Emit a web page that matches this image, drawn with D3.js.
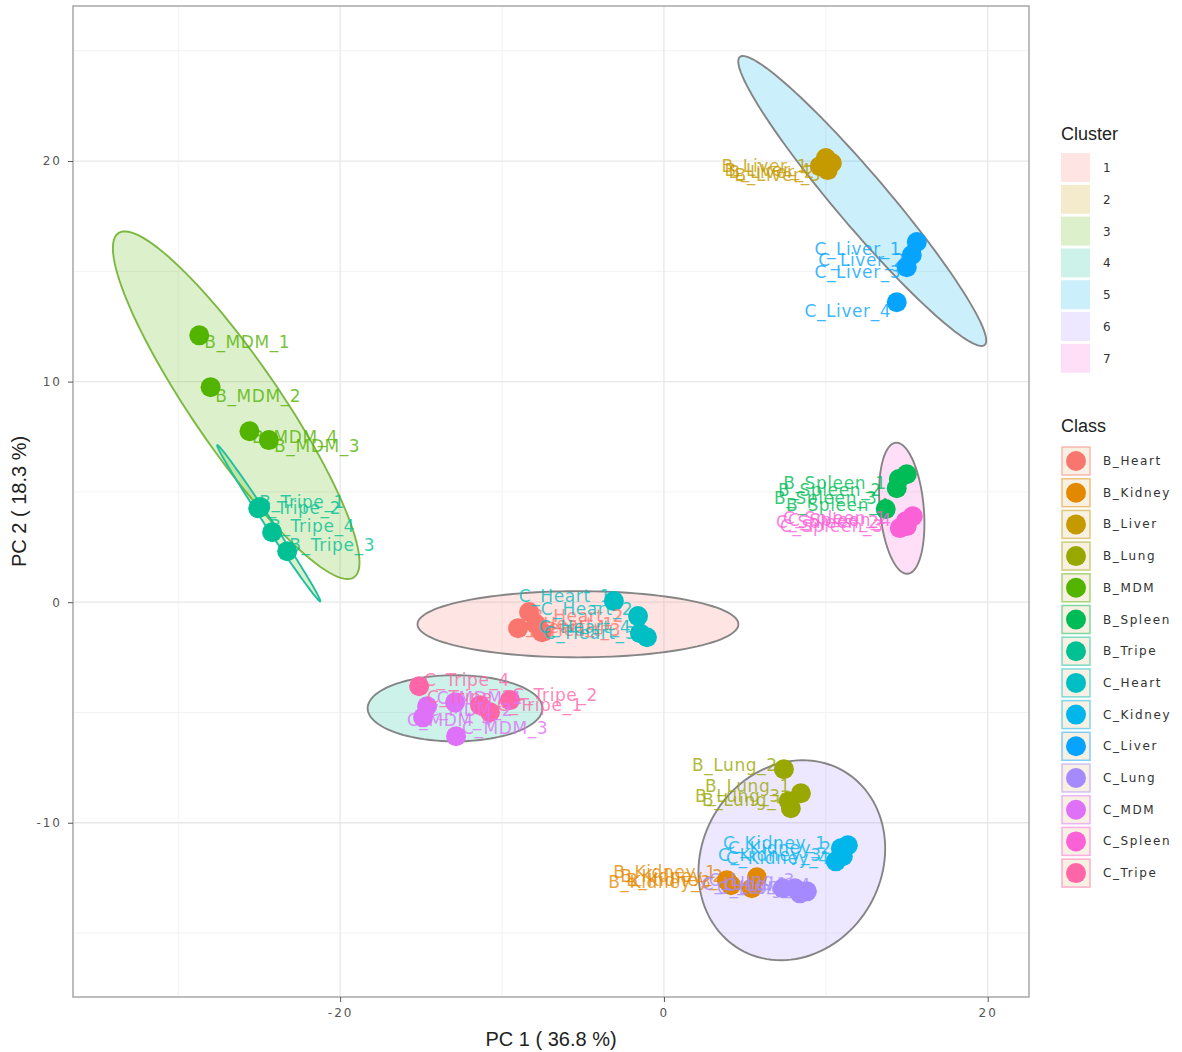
<!DOCTYPE html>
<html>
<head>
<meta charset="utf-8">
<script src="https://cdn.jsdelivr.net/npm/d3@7"></script>
<style>
  body { margin: 0; background: #fff; }
  svg { font-family: "DejaVu Sans", sans-serif; }
</style>
</head>
<body>
<figure id="pca" style="margin:0"></figure>
<script>
// class names (ggplot default hue order)
const classes = ["B_Heart", "B_Kidney", "B_Liver", "B_Lung", "B_MDM", "B_Spleen", "B_Tripe",
  "C_Heart", "C_Kidney", "C_Liver", "C_Lung", "C_MDM", "C_Spleen", "C_Tripe"];
const classColors = ["#F8766D", "#E38900", "#C49A00", "#99A800", "#53B400", "#00BC56", "#00C094",
  "#00BFC4", "#00B6EB", "#06A4FF", "#A58AFF", "#DF70F8", "#FB61D7", "#FF66A8"];
const clusters = ["1", "2", "3", "4", "5", "6", "7"];
const clusterColors = ["#F8766D", "#C49A00", "#53B400", "#00C094", "#00B6EB", "#A58AFF", "#FB61D7"];

// scores per class, samples _1.._4
const pc1 = {
  B_Heart: [-9.01, -8.33, -7.53, -7.9],
  B_Kidney: [3.89, 5.74, 5.43, 4.14],
  B_Liver: [10.0, 10.37, 10.12, 9.63],
  B_Lung: [8.46, 7.41, 7.72, 7.84],
  B_MDM: [-28.7, -28.0, -24.4, -25.6],
  B_Spleen: [14.51, 15.0, 14.38, 13.7],
  B_Tripe: [-25.06, -24.94, -23.27, -24.2],
  C_Heart: [-3.09, -1.6, -1.48, -1.05],
  C_Kidney: [10.93, 11.36, 10.62, 11.05],
  C_Liver: [15.62, 15.31, 15.0, 14.38],
  C_Lung: [7.35, 8.09, 8.83, 8.4],
  C_MDM: [-12.9, -14.63, -12.84, -14.88],
  C_Spleen: [14.94, 15.37, 14.57, 15.0],
  C_Tripe: [-10.74, -9.51, -11.36, -15.12]
};
const pc2 = {
  B_Heart: [-1.18, -0.45, -1.36, -1.0],
  B_Kidney: [-12.61, -12.47, -12.97, -12.83],
  B_Liver: [20.14, 19.91, 19.59, 19.77],
  B_Lung: [-8.66, -7.57, -9.02, -9.34],
  B_MDM: [12.1, 9.75, 7.35, 7.75],
  B_Spleen: [5.58, 5.8, 5.17, 4.22],
  B_Tripe: [4.26, 4.31, 2.31, 3.17],
  C_Heart: [0.05, -0.63, -1.41, -1.59],
  C_Kidney: [-11.16, -11.02, -11.75, -11.52],
  C_Liver: [16.33, 15.74, 15.19, 13.6],
  C_Lung: [-12.97, -12.97, -13.11, -13.2],
  C_MDM: [-4.54, -4.72, -6.08, -5.22],
  C_Spleen: [3.67, 3.9, 3.36, 3.45],
  C_Tripe: [-4.99, -4.44, -4.67, -3.81]
};
// repelled label centres (data units)
const labelPC1 = {
  B_Heart: [-5.93, -5.31, -5.49, -6.42],
  B_Kidney: [0.06, 0.49, -0.25, 0.86],
  B_Liver: [6.23, 6.67, 7.04, 6.42],
  B_Lung: [5.19, 4.38, 4.57, 5.0],
  B_MDM: [-25.74, -25.06, -21.42, -22.78],
  B_Spleen: [10.56, 10.25, 10.0, 10.74],
  B_Tripe: [-22.35, -22.59, -20.49, -21.73],
  C_Heart: [-6.11, -4.75, -4.57, -4.88],
  C_Kidney: [6.85, 7.16, 6.54, 7.04],
  C_Liver: [11.98, 12.22, 11.98, 11.36],
  C_Lung: [5.0, 5.93, 5.43, 6.42],
  C_MDM: [-11.36, -11.98, -9.81, -13.21],
  C_Spleen: [10.56, 10.12, 10.37, 10.86],
  C_Tripe: [-7.65, -6.73, -11.98, -12.16]
};
const labelPC2 = {
  B_Heart: [-1.0, -0.63, -1.27, -1.13],
  B_Kidney: [-12.24, -12.43, -12.7, -12.61],
  B_Liver: [19.77, 19.5, 19.37, 19.59],
  B_Lung: [-8.34, -7.39, -8.8, -8.98],
  B_MDM: [11.79, 9.34, 7.07, 7.48],
  B_Spleen: [5.4, 5.08, 4.72, 4.4],
  B_Tripe: [4.54, 4.26, 2.59, 3.45],
  C_Heart: [0.27, -0.32, -1.41, -1.13],
  C_Kidney: [-10.93, -11.16, -11.47, -11.61],
  C_Liver: [16.01, 15.51, 14.97, 13.2],
  C_Lung: [-12.79, -12.97, -12.61, -12.83],
  C_MDM: [-4.35, -4.9, -5.71, -5.35],
  C_Spleen: [3.81, 3.63, 3.45, 3.72],
  C_Tripe: [-4.67, -4.22, -4.31, -3.54]
};

// ellipses: centre, half major axis vector, half minor axis vector (data units)
const ellipseCluster = ["3", "3", "5", "7", "1", "4", "6"];
const ellipseCenter = [[-26.42, 8.93], [-24.41, 3.58], [12.25, 18.19], [14.69, 4.26], [-5.31, -1.0], [-12.9, -4.81], [7.9, -11.7]];
const ellipseMajor = [[-7.28, 7.8], [3.18, -3.54], [7.56, -6.53], [0.37, -2.97], [9.91, 0], [5.4, 0], [3.18, 4.05]];
const ellipseMinor = [[2.24, 1.13], [0.2, 0.1], [1.22, 0.76], [1.35, 0.09], [0, 1.5], [0, 1.5], [4.81, -2.04]];
const ellipseStroke = ["#7cb842", "#1fbfa0", "#858585", "#858585", "#858585", "#858585", "#858585"];

const xTicks = [-20, 0, 20];
const yTicks = [-10, 0, 10, 20];

const W = 1182, H = 1052;
const panel = { left: 73, right: 1029, top: 6, bottom: 997 };

const svg = d3.select("figure#pca").append("svg")
  .attr("width", W).attr("height", H);

const x = d3.scaleLinear().domain([-36.5, 22.55]).range([panel.left, panel.right]);
const y = d3.scaleLinear().domain([-17.9, 27.03]).range([panel.bottom, panel.top]);
const clusterColor = d3.scaleOrdinal().domain(clusters).range(clusterColors);
const classColor = d3.scaleOrdinal().domain(classes).range(classColors);

// panel background + grid
svg.append("rect")
  .attr("x", panel.left).attr("y", panel.top)
  .attr("width", panel.right - panel.left).attr("height", panel.bottom - panel.top)
  .attr("fill", "#fff");

const grid = svg.append("g");
const xMinor = [-30, -10, 10];
const yMinor = [-15, -5, 5, 15, 25];
grid.selectAll(".xm").data(xMinor).enter().append("line")
  .attr("x1", d => x(d)).attr("x2", d => x(d)).attr("y1", panel.top).attr("y2", panel.bottom)
  .attr("stroke", "#f2f2f2").attr("stroke-width", 1);
grid.selectAll(".ym").data(yMinor).enter().append("line")
  .attr("y1", d => y(d)).attr("y2", d => y(d)).attr("x1", panel.left).attr("x2", panel.right)
  .attr("stroke", "#f2f2f2").attr("stroke-width", 1);
grid.selectAll(".xM").data(xTicks).enter().append("line")
  .attr("x1", d => x(d)).attr("x2", d => x(d)).attr("y1", panel.top).attr("y2", panel.bottom)
  .attr("stroke", "#e8e8e8").attr("stroke-width", 1.3);
grid.selectAll(".yM").data(yTicks).enter().append("line")
  .attr("y1", d => y(d)).attr("y2", d => y(d)).attr("x1", panel.left).attr("x2", panel.right)
  .attr("stroke", "#e8e8e8").attr("stroke-width", 1.3);

// ellipses
const ellipses = ellipseCluster.map((c, i) => ({
  cluster: c, c: ellipseCenter[i], a: ellipseMajor[i], b: ellipseMinor[i], stroke: ellipseStroke[i]
}));
const ellLine = d3.line().x(p => x(p[0])).y(p => y(p[1])).curve(d3.curveLinearClosed);
svg.append("g").selectAll("path").data(ellipses).enter().append("path")
  .attr("d", e => ellLine(d3.range(0, 360, 3).map(deg => {
    const t = deg * Math.PI / 180;
    return [e.c[0] + e.a[0] * Math.cos(t) + e.b[0] * Math.sin(t),
            e.c[1] + e.a[1] * Math.cos(t) + e.b[1] * Math.sin(t)];
  })))
  .attr("fill", e => clusterColor(e.cluster))
  .attr("fill-opacity", 0.2)
  .attr("stroke", e => e.stroke)
  .attr("stroke-width", 1.9);

// samples
const samples = [];
classes.forEach(cl => {
  pc1[cl].forEach((v, i) => {
    samples.push({ cls: cl, name: cl + "_" + (i + 1), px: v, py: pc2[cl][i],
      lx: labelPC1[cl][i], ly: labelPC2[cl][i] });
  });
});

svg.append("g").selectAll("circle").data(samples).enter().append("circle")
  .attr("cx", d => x(d.px)).attr("cy", d => y(d.py)).attr("r", 10)
  .attr("fill", d => classColor(d.cls));

svg.append("g").selectAll("text").data(samples).enter().append("text")
  .attr("x", d => x(d.lx)).attr("y", d => y(d.ly))
  .attr("text-anchor", "middle").attr("dominant-baseline", "central")
  .attr("font-size", 17).attr("letter-spacing", 0.6)
  .attr("fill", d => classColor(d.cls)).attr("fill-opacity", 0.8)
  .text(d => d.name);

// panel border
svg.append("rect")
  .attr("x", panel.left).attr("y", panel.top)
  .attr("width", panel.right - panel.left).attr("height", panel.bottom - panel.top)
  .attr("fill", "none").attr("stroke", "#9a9a9a").attr("stroke-width", 1.3);

// axes
const xAxis = svg.append("g").attr("transform", "translate(0," + panel.bottom + ")")
  .call(d3.axisBottom(x).tickValues(xTicks).tickFormat(d => String(d)).tickSize(5).tickPadding(6));
const yAxis = svg.append("g").attr("transform", "translate(" + panel.left + ",0)")
  .call(d3.axisLeft(y).tickValues(yTicks).tickFormat(d => String(d)).tickSize(5).tickPadding(6));
[xAxis, yAxis].forEach(g => {
  g.select(".domain").remove();
  g.selectAll(".tick line").attr("stroke", "#555");
  g.selectAll(".tick text").attr("fill", "#555").attr("font-size", 12)
    .attr("letter-spacing", 2).attr("font-family", "DejaVu Sans");
});

svg.append("text")
  .attr("x", (panel.left + panel.right) / 2).attr("y", 1046)
  .attr("text-anchor", "middle").attr("font-size", 20).attr("fill", "#222")
  .attr("font-family", "Liberation Sans")
  .text("PC 1 ( 36.8 %)");
svg.append("text")
  .attr("transform", "translate(26," + ((panel.top + panel.bottom) / 2) + ") rotate(-90)")
  .attr("text-anchor", "middle").attr("font-size", 20).attr("fill", "#222")
  .attr("font-family", "Liberation Sans")
  .text("PC 2 ( 18.3 %)");

// legends
const leg = svg.append("g").attr("transform", "translate(1061,0)");
leg.append("text").attr("x", 0).attr("y", 140).attr("font-size", 18).attr("fill", "#222")
  .attr("font-family", "Liberation Sans").text("Cluster");
const cl = leg.selectAll(".cl").data(clusters).enter().append("g")
  .attr("transform", (d, i) => "translate(0," + (153 + i * 31.8) + ")");
cl.append("rect").attr("width", 29).attr("height", 29)
  .attr("fill", d => clusterColor(d)).attr("fill-opacity", 0.2);
cl.append("text").attr("x", 42).attr("y", 15).attr("dominant-baseline", "central")
  .attr("font-size", 12).attr("fill", "#333").text(d => d);

leg.append("text").attr("x", 0).attr("y", 432).attr("font-size", 18).attr("fill", "#222")
  .attr("font-family", "Liberation Sans").text("Class");
const ck = leg.selectAll(".ck").data(classes).enter().append("g")
  .attr("transform", (d, i) => "translate(0," + (446 + i * 31.7) + ")");
ck.append("rect").attr("x", 1).attr("y", 1).attr("width", 28).attr("height", 28)
  .attr("fill", "#f3e6d0").attr("fill-opacity", 0.6)
  .attr("stroke", d => classColor(d)).attr("stroke-opacity", 0.5).attr("stroke-width", 1.5);
ck.append("circle").attr("cx", 15).attr("cy", 15).attr("r", 10)
  .attr("fill", d => classColor(d));
ck.append("text").attr("x", 42).attr("y", 15).attr("dominant-baseline", "central")
  .attr("font-size", 12).attr("letter-spacing", 1.6).attr("fill", "#333").text(d => d);
</script>
</body>
</html>
